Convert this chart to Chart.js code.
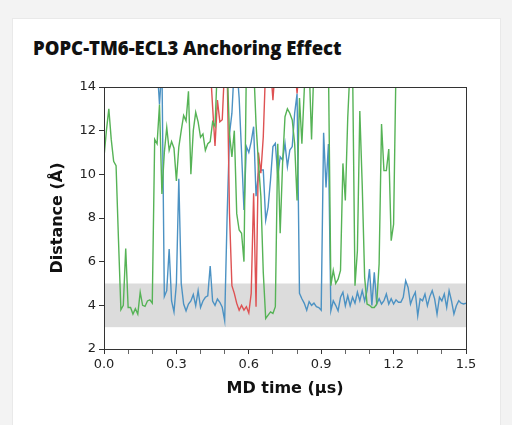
<!DOCTYPE html>
<html>
<head>
<meta charset="utf-8">
<script src="https://cdn.jsdelivr.net/npm/chart.js@4.4.1/dist/chart.umd.min.js"></script>
<style>
  html, body { margin: 0; padding: 0; }
  body { width: 512px; height: 425px; background: #f3f3f3; position: relative; overflow: hidden; }
  .card { position: absolute; left: 12px; top: 18px; width: 487px; height: 420px; background: #fff; border: 1px solid #e9e9e9; }
  .title { position: absolute; left: 33px; top: 35px; font-family: "Open Sans", Lato, sans-serif; font-weight: 800; font-size: 18.5px; color: #111; white-space: nowrap; }
  #wrap { position: absolute; left: 0; top: 75px; width: 512px; height: 340px; }
</style>
</head>
<body>
<div class="card"></div>
<div class="title">POPC-TM6-ECL3 Anchoring Effect</div>
<div id="wrap"><canvas id="chart"></canvas></div>
<script>
// MD time sampling (µs)
var T_START = 0.0;
var T_STEP = 0.01;

// Distance (Å) per frame, 0.00 .. 1.50 µs; 15 = off the top of the plot, null = not sampled
var blueDist = [
  null, null, null, null, null, null, null, null, null, null,
  null, null, null, null, null, null, null, null, null, null,
  null, null, 15, 13.2, 15, 4.4, 4.67, 6.58, 4.2, 3.7,
  5.0, 9.8, 5.0, 4.06, 3.75, 4.06, 4.2, 4.5, 3.98, 4.67,
  3.9, 4.2, 4.37, 4.44, 5.8, 4.2, 4.0, 4.29, 4.14, 3.91,
  3.3, 8.0, 11.85, 12.8, 15, 15, 13.5, 11.0, 8.37, 11.27,
  11.0, 11.5, 12.18, 9.0, 10.05, 10.2, 10.2, 7.9, 8.5, 9.74,
  11.27, 11.42, 9.9, 10.8, 10.66, 11.42, 10.35, 11.11, 11.27, 12.8,
  13.7, 4.55, 4.3, 4.09, 3.78, 4.17, 4.0, 4.1, 3.94, 3.9,
  3.78, 11.9, 9.4, 11.39, 3.75, 4.21, 4.0, 3.75, 4.37, 4.6,
  3.98, 4.44, 3.98, 4.37, 4.1, 4.6, 4.21, 4.67, 4.2, 4.67,
  5.66, 4.0, 5.51, 4.06, 4.3, 4.06, 4.21, 4.52, 4.06, 4.3,
  4.06, 4.25, 4.14, 4.14, 4.37, 5.13, 4.82, 4.06, 4.37, 4.6,
  3.52, 4.3, 4.21, 4.52, 3.98, 4.4, 4.67, 4.3, 3.6, 4.37,
  4.2, 4.52, 3.91, 4.67, 4.2, 3.6, 3.98, 4.21, 4.1, 4.06,
  4.1
];
var redDist = [
  null, null, null, null, null, null, null, null, null, null,
  null, null, null, null, null, null, null, null, null, null,
  null, null, null, null, null, null, null, null, null, null,
  null, null, null, null, null, null, null, null, null, null,
  null, null, null, null, 15, 13.1, 11.3, 13.4, 12.4, 12.5,
  15, 15, 8.2, 4.9, 4.55, 4.09, 3.78, 4.0, 3.78, 3.94,
  3.65, 4.55, 9.13, 3.94, 11.0, 10.05, 11.72, 15, 15, 15,
  13.4, 15, 15, 15, 15, 15, 15, 15, 15, 15,
  13.7, 15
];
var greenDist = [
  10.8, 12.0, 13.0, 11.6, 10.6, 10.4, 7.0, 3.8, 4.0, 6.6,
  3.9, 3.9, 3.6, 3.85, 3.6, 4.6, 4.0, 3.95, 4.2, 4.25,
  4.1, 11.6, 11.4, 13.2, 9.1, 11.0, 12.15, 11.1, 11.5, 11.2,
  9.7, 11.25, 12.0, 12.7, 12.45, 13.8, 10.0, 12.0, 12.84, 12.4,
  11.7, 11.85, 11.1, 11.4, 11.5, 12.4, 12.2, 15, 15, 15,
  15, 15, 11.85, 10.8, 12.0, 8.2, 7.45, 7.3, 6.0, 15,
  15, 15, 15, 12.3, 10.5, 9.0, 5.5, 3.4, 3.55, 3.7,
  3.63, 3.94, 11.4, 7.3, 10.5, 12.64, 13.0, 12.8, 12.49, 11.4,
  8.8, 13.5, 11.4, 13.9, 15, 15, 11.6, 15, 15, 15,
  15, 15, 15, 15, 4.9, 5.6, 5.0, 5.2, 5.6, 10.5,
  8.8, 12.6, 15, 15, 4.9, 6.5, 12.9, 9.5, 5.28, 4.06,
  4.0, 3.9, 3.9, 4.06, 5.9, 12.3, 10.17, 10.17, 11.16, 6.96,
  7.72, 15
];

var BAND_LOW = 3;
var BAND_HIGH = 5;
var Y_MIN = 2, Y_MAX = 14, Y_STEP = 2;
var X_MIN = 0, X_MAX = 1.5, X_MINOR = 0.1, X_MAJOR = 0.3;

function toPoints(values) {
  var pts = [];
  for (var i = 0; i < values.length; i++) {
    pts.push({ x: T_START + i * T_STEP, y: values[i] });
  }
  return pts;
}

function isMajor(v) {
  var k = v / X_MAJOR;
  return Math.abs(k - Math.round(k)) < 1e-6;
}

// grey "bound" band + full box around the plot
var bandPlugin = {
  id: 'band',
  beforeDatasetsDraw: function (chart) {
    var ctx = chart.ctx, a = chart.chartArea, y = chart.scales.y;
    var top = y.getPixelForValue(BAND_HIGH), bottom = y.getPixelForValue(BAND_LOW);
    ctx.save();
    ctx.fillStyle = '#dcdcdc';
    ctx.fillRect(a.left, top, a.right - a.left, bottom - top);
    ctx.restore();
  },
  afterDatasetsDraw: function (chart) {
    var ctx = chart.ctx, a = chart.chartArea;
    ctx.save();
    ctx.strokeStyle = '#333';
    ctx.lineWidth = 1;
    ctx.strokeRect(Math.round(a.left) + 0.5, Math.round(a.top) + 0.5, Math.round(a.right - a.left), Math.round(a.bottom - a.top));
    ctx.restore();
  }
};

var tickFont = { family: 'DejaVu Sans', size: 13 };
var titleFont = { family: 'DejaVu Sans', size: 16, weight: 'bold' };

new Chart(document.getElementById('chart'), {
  type: 'line',
  data: {
    datasets: [
      { label: 'blue', data: toPoints(blueDist), borderColor: 'rgb(76,146,195)', order: 3 },
      { label: 'red', data: toPoints(redDist), borderColor: 'rgb(222,82,83)', order: 2 },
      { label: 'green', data: toPoints(greenDist), borderColor: 'rgb(86,179,86)', order: 1 }
    ]
  },
  options: {
    responsive: true,
    maintainAspectRatio: false,
    animation: false,
    layout: { padding: { left: 48, right: 46, top: 12, bottom: 17 } },
    elements: {
      line: { borderWidth: 1.4, tension: 0, fill: false },
      point: { radius: 0 }
    },
    plugins: {
      legend: { display: false },
      tooltip: { enabled: false }
    },
    scales: {
      x: {
        type: 'linear',
        min: X_MIN,
        max: X_MAX,
        afterFit: function (s) { s.height = 49; },
        grid: {
          drawOnChartArea: false, drawTicks: true, tickLength: 5,
          color: function (c) { return c.tick && isMajor(c.tick.value) ? '#333' : '#666'; }
        },
        border: { display: true, color: '#333', width: 1 },
        ticks: {
          stepSize: X_MINOR,
          autoSkip: false,
          maxRotation: 0,
          color: '#222',
          font: tickFont,
          padding: 3,
          callback: function (v) { return isMajor(v) ? v.toFixed(1) : ''; }
        },
        title: { display: true, text: 'MD time (μs)', color: '#111', font: titleFont, padding: 0 }
      },
      y: {
        min: Y_MIN,
        max: Y_MAX,
        afterFit: function (s) { s.width = 56; },
        grid: { drawOnChartArea: false, drawTicks: true, tickLength: 5, color: '#333' },
        border: { display: true, color: '#333', width: 1 },
        ticks: { stepSize: Y_STEP, color: '#222', font: tickFont, padding: 3 },
        title: { display: true, text: 'Distance (Å)', color: '#111', font: titleFont, padding: 0 }
      }
    }
  },
  plugins: [bandPlugin]
});
</script>
</body>
</html>
